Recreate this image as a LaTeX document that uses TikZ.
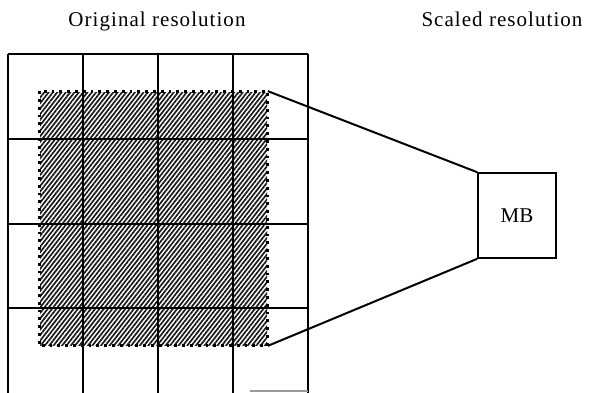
\documentclass[tikz,border=0pt]{standalone}
\usepackage{fontspec}
\setmainfont{Liberation Serif}
\usetikzlibrary{patterns.meta}
\begin{document}
\begin{tikzpicture}[x=1pt,y=-1pt,
  gridline/.style={line width=2pt},
  hatch/.style={inner sep=0pt, minimum width=227pt, minimum height=253pt,
    pattern={Lines[angle=52,distance=3.4pt,line width=1.7pt]}, pattern color=black!90},
  dotborder/.style={line width=2.8pt, dash pattern=on 2.8pt off 5pt},
  mbbox/.style={draw, line width=1.6pt, minimum width=78pt, minimum height=85pt, inner sep=0pt, font=\fontsize{21}{24}\selectfont},
  title/.style={font=\fontsize{21}{24}\selectfont\addfontfeature{LetterSpace=5}},
  conn/.style={line width=2pt}]
\useasboundingbox (0,0) rectangle (590,392);
% hatched window
\node[hatch] (win) at (153.5,218.5) {};
% grid
\foreach \x in {8,83,158,233,308} \draw[gridline] (\x,54) -- (\x,393);
\foreach \y in {54,139,224,308} \draw[gridline] (8,\y) -- (308,\y);
\draw[line width=1.2pt, black!40] (250,391) -- (308,391);
% dotted border
\draw[dotborder] (win.north west) rectangle (win.south east);
% MB box
\node[mbbox] (mb) at (517,215.5) {MB};
% connectors
\draw[conn] (win.north east) -- (mb.north west);
\draw[conn] (win.south east) -- (mb.south west);
% titles
\node[title] (t1) at (157,21) {Original resolution};
\node[title] (t2) at (502,19) {Scaled resolution};
\end{tikzpicture}
\end{document}
